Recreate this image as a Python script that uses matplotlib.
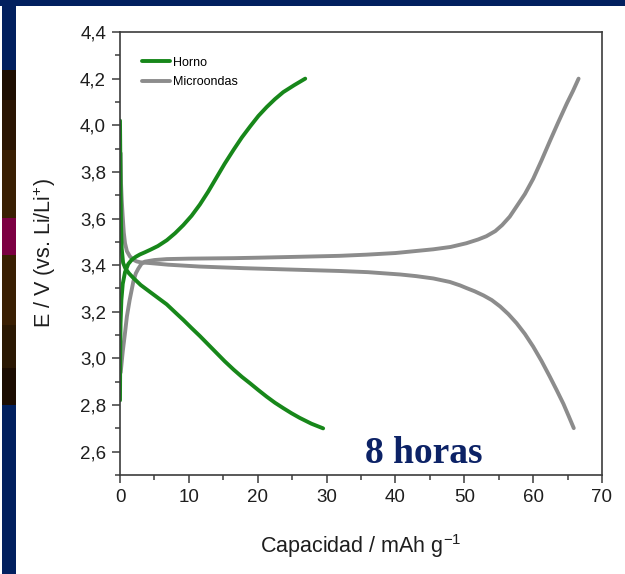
import matplotlib
matplotlib.use('Agg')
import matplotlib.pyplot as plt
from matplotlib.patches import Rectangle
from matplotlib.ticker import MultipleLocator, FuncFormatter

plt.rcParams['font.family'] = ['Liberation Sans', 'DejaVu Sans']
plt.rcParams['mathtext.default'] = 'regular'

# ---------------- data ----------------
horno_charge_x = [0, 0.03, 0.08, 0.2, 0.4, 0.73, 1.2, 1.7, 2.3, 2.9, 3.6, 4.4, 5.5, 6.8, 8.0,
                  9.2, 10.4, 11.6, 12.8, 14.0, 15.2, 16.5, 17.7, 18.9, 20.1, 21.3, 22.5, 23.7,
                  25.3, 26.9]
horno_charge_v = [2.82, 3.0, 3.15, 3.25, 3.32, 3.37, 3.405, 3.423, 3.436, 3.446, 3.455, 3.466,
                  3.482, 3.507, 3.537, 3.572, 3.612, 3.66, 3.715, 3.775, 3.835, 3.895, 3.948,
                  3.995, 4.04, 4.078, 4.112, 4.142, 4.172, 4.2]

horno_dis_x = [0, 0.05, 0.1, 0.15, 0.25, 0.45, 0.8, 1.3, 1.94, 3.0, 4.36, 5.5, 6.78, 8.0, 9.2,
               10.4, 11.6, 12.8, 14.0, 15.2, 16.5, 17.7, 18.9, 20.1, 21.3, 22.5, 23.7, 24.9,
               26.1, 27.8, 29.5]
horno_dis_v = [4.02, 3.85, 3.7, 3.57, 3.47, 3.41, 3.385, 3.365, 3.345, 3.315, 3.285, 3.26,
               3.232, 3.198, 3.165, 3.13, 3.096, 3.06, 3.024, 2.988, 2.952, 2.921, 2.893,
               2.864, 2.836, 2.81, 2.787, 2.765, 2.745, 2.72, 2.70]

micro_charge_x = [0.1, 0.4, 0.73, 1.0, 1.4, 1.94, 2.3, 2.66, 3.1, 3.6, 5.0, 6.78, 10.0, 16.5,
                  20.0, 26.1, 31.9, 35.8, 40.0, 45.5, 48.0, 50.3, 52.0, 53.2, 54.5, 55.5,
                  56.6, 57.6, 58.8, 60.0, 61.2, 62.4, 63.6, 64.9, 65.8, 66.6]
micro_charge_v = [2.94, 3.03, 3.11, 3.18, 3.25, 3.33, 3.365, 3.385, 3.405, 3.415, 3.422, 3.426,
                  3.428, 3.43, 3.432, 3.436, 3.44, 3.445, 3.452, 3.468, 3.478, 3.494, 3.51,
                  3.524, 3.546, 3.572, 3.608, 3.652, 3.705, 3.77, 3.848, 3.93, 4.01, 4.094,
                  4.148, 4.2]

micro_dis_x = [0.1, 0.15, 0.25, 0.39, 0.55, 0.73, 1.0, 1.45, 2.0, 2.42, 3.0, 4.36, 7.0, 11.6,
               18.0, 26.1, 31.9, 36.0, 40.7, 43.0, 45.5, 47.9, 49.4, 50.3, 51.5, 52.8, 54.0,
               55.2, 56.4, 57.6, 58.8, 60.0, 61.2, 62.4, 63.4, 64.4, 65.2, 65.9]
micro_dis_v = [3.88, 3.75, 3.68, 3.61, 3.54, 3.494, 3.46, 3.437, 3.422, 3.416, 3.412, 3.409,
               3.402, 3.394, 3.387, 3.38, 3.375, 3.37, 3.36, 3.353, 3.343, 3.328, 3.313, 3.302,
               3.288, 3.27, 3.25, 3.223, 3.19, 3.151, 3.105, 3.051, 2.99, 2.923, 2.865, 2.805,
               2.75, 2.701]

series_labels = ['Horno', 'Microondas']
annotation = '8 horas'
xlabel = 'Capacidad / mAh g$^{-1}$'
ylabel = 'E / V (vs. Li/Li$^{+}$)'

# ---------------- figure ----------------
W, H = 625, 574
fig = plt.figure(figsize=(W / 100, H / 100), dpi=100)
fig.patch.set_facecolor('white')

BLUE = '#02205f'

def band(x0, y0, x1, y1, color):
    fig.patches.append(Rectangle((x0 / W, 1 - y1 / H), (x1 - x0) / W, (y1 - y0) / H,
                                 transform=fig.transFigure, facecolor=color,
                                 edgecolor='none', zorder=0))

band(0, 0, W, 6, BLUE)
band(2, 0, 16, H, BLUE)
strip = [(70, 100, '#1e0e02'), (100, 150, '#2a1503'), (150, 218, '#3a1f03'),
         (218, 255, '#7c0043'), (255, 325, '#3a1f03'), (325, 368, '#2b1803'),
         (368, 405, '#1c0d02')]
for y0, y1, c in strip:
    band(2, y0, 16, y1, c)

ax = fig.add_axes([120 / W, 1 - 475 / H, 482 / W, 443 / H])

GREEN = '#17871a'
GRAY = '#8c8c8c'
lw = 2.8
kw = dict(lw=lw, solid_capstyle='round', solid_joinstyle='round')
l_g1, = ax.plot(micro_charge_x, micro_charge_v, color=GRAY, **kw)
ax.plot(micro_dis_x, micro_dis_v, color=GRAY, **kw)
l_h1, = ax.plot(horno_charge_x, horno_charge_v, color=GREEN, **kw)
ax.plot(horno_dis_x, horno_dis_v, color=GREEN, **kw)

ax.set_xlim(0, 70)
ax.set_ylim(2.5, 4.4)
ax.xaxis.set_major_locator(MultipleLocator(10))
ax.xaxis.set_minor_locator(MultipleLocator(5))
ax.yaxis.set_major_locator(MultipleLocator(0.2))
ax.yaxis.set_minor_locator(MultipleLocator(0.1))
ax.yaxis.set_major_formatter(FuncFormatter(lambda v, p: f'{v:.1f}'.replace('.', ',')))
ax.xaxis.set_major_formatter(FuncFormatter(lambda v, p: f'{v:.0f}'))

SP = '#3c3c3c'
for s in ax.spines.values():
    s.set_color(SP)
    s.set_linewidth(1.2)
ax.tick_params(which='both', direction='out', color=SP, width=1.1, top=False, right=False,
               labelcolor='#1e1e1e', labelsize=13.5)
ax.tick_params(which='major', length=6, pad=4)
ax.tick_params(which='minor', length=3.5)

ax.set_xlabel(xlabel, fontsize=15.5, color='#1e1e1e', labelpad=19)
ax.set_ylabel(ylabel, fontsize=15.5, color='#1e1e1e', labelpad=16)

ax.legend([l_h1, l_g1], series_labels, loc='upper left', bbox_to_anchor=(0.045, 0.944),
          frameon=False, fontsize=9, handlelength=2.3, handletextpad=0.2,
          labelspacing=0.6, borderpad=0, borderaxespad=0)

ax.text(35.6, 2.553, annotation, family=['Liberation Serif', 'DejaVu Serif'],
        fontweight='bold', fontsize=27, color='#0c2266', ha='left', va='baseline')

fig.savefig('out.png', dpi=100)
